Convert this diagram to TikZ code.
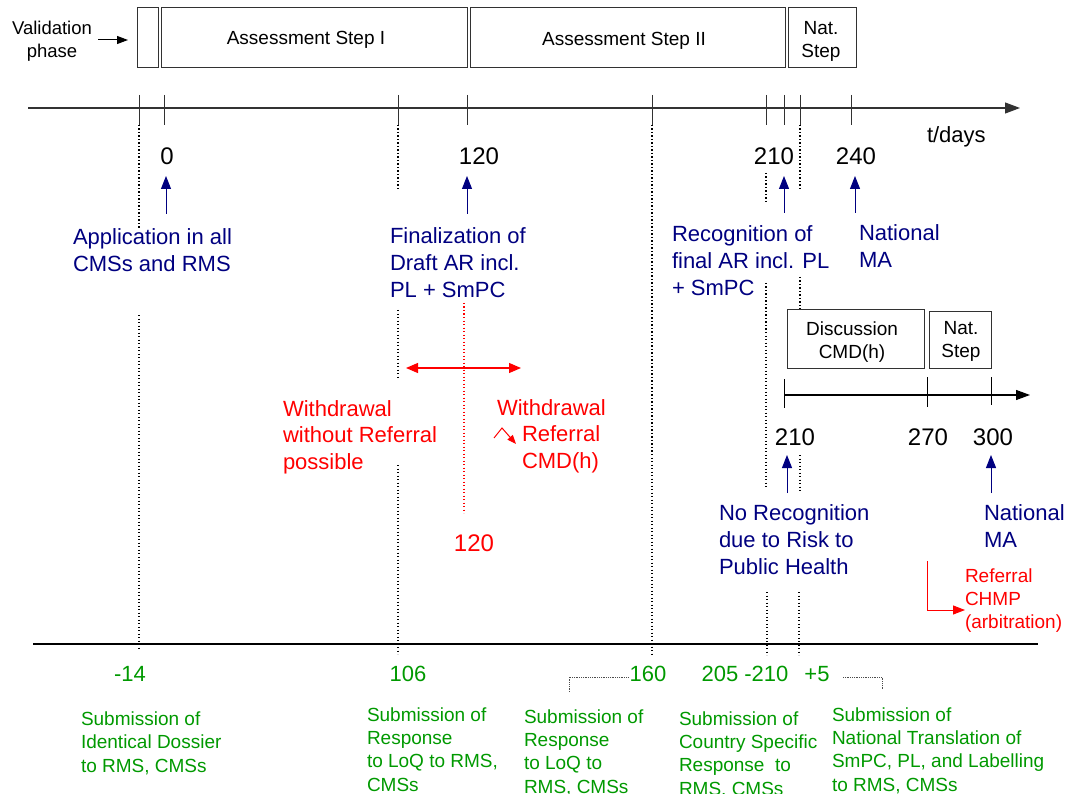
\documentclass[tikz,border=0pt]{standalone}
\usepackage{fontspec}
\setmainfont{Liberation Sans}
\usetikzlibrary{arrows.meta}

\definecolor{navy}{RGB}{0,0,128}
\definecolor{alert}{RGB}{255,0,0}
\definecolor{subgreen}{RGB}{0,153,0}
\definecolor{frame}{RGB}{50,50,50}

% multi-line text nodes are placed by the baseline of their last line
\tikzset{
  fs/.style 2 args={font=\fontsize{#1}{#2}\selectfont},
  txt/.style={inner sep=0pt, outer sep=0pt, align=left, anchor=base west},
  phasebox/.style={draw=frame, line width=0.9pt, inner sep=0pt, anchor=north west},
  phasetxt/.style={inner sep=0pt, align=center, anchor=center, fs={19}{23}},
  axisline/.style={draw=frame, line width=1.1pt},
  tickmark/.style={draw=frame, line width=1pt},
  dotline/.style={draw=black, line width=1.3pt, dash pattern=on 1.3pt off 2.2pt},
  reddot/.style={draw=alert, line width=1.2pt, dash pattern=on 1.3pt off 2.2pt},
  fineline/.style={draw=black!70, line width=0.8pt, dash pattern=on 0.8pt off 1pt},
  upmark/.style={draw=navy, line width=1pt, -{Triangle[width=10pt,length=13pt]}},
  bluetxt/.style={txt, text=navy, fs={22}{27}},
  redtxt/.style={txt, text=alert, fs={22}{26.5}},
  greentxt/.style={txt, text=subgreen, fs={19}{23.2}},
  daynum/.style={inner sep=0pt, anchor=center, fs={24}{28}},
  greennum/.style={inner sep=0pt, anchor=center, text=subgreen, fs={22}{26}},
}

\begin{document}
\begin{tikzpicture}[x=1pt, y=-1pt]
\useasboundingbox (0,0) rectangle (1068,794);
\clip (0,0) rectangle (1068,794);

% ---------- phase bar ----------
\node[txt, anchor=center, align=center, fs={18.5}{23.5}] (valtxt) at (52,41) {Validation\\phase};
\node[phasebox, minimum width=21pt, minimum height=60pt] (val) at (137,7) {};
\node[phasebox, minimum width=306pt, minimum height=60pt] (as1) at (161,7) {};
\node[phasebox, minimum width=315pt, minimum height=60pt] (as2) at (469.5,7) {};
\node[phasebox, minimum width=68pt, minimum height=60pt] (nat) at (787.5,7) {};
\node[phasetxt] (as1t) at (306,40) {Assessment Step I};
\node[phasetxt] (as2t) at (624,41) {Assessment Step II};
\node[phasetxt] (natt) at (821,41) {Nat.\\Step};
\coordinate (va) at (98,40);
\draw[draw=black, line width=1pt, -{Triangle[width=8pt,length=11pt]}] (va) -- ([xshift=-9pt]val.west |- va);

% ---------- main time axis ----------
\coordinate (axL) at (28,108);
\coordinate (axR) at (1020,108);
\draw[axisline, -{Triangle[width=11pt,length=15pt]}] (axL) -- (axR);
\foreach \x in {139,164,398,467,652,766,784,800,851}
  \draw[tickmark] (\x,95) -- (\x,125);
\node[txt, fs={22}{26}] (tdays) at (927,143) {t/days};

% day labels
\node[daynum] (d0)   at (167,156) {0};
\node[daynum] (d120) at (479,156) {120};
\node[daynum] (d210) at (774,156) {210};
\node[daynum] (d240) at (856,156) {240};

% milestone texts
\node[bluetxt] (app)   at (73,272)  {Application in all\\CMSs and RMS};
\node[bluetxt] (fin)   at (390,298) {Finalization of\\Draft AR incl.\\PL + SmPC};
\node[bluetxt] (rec)   at (672,295) {Recognition of\\final AR incl. PL\\+ SmPC};
\node[bluetxt] (nma)   at (859,268) {National\\MA};

\draw[upmark] (166,214) -- (166,176);
\draw[upmark] (467,214) -- (467,176);
\draw[upmark] (784,213) -- (784,176);
\draw[upmark] (855,213) -- (855,176);

% ---------- withdrawal window ----------
\draw[draw=alert, line width=1.2pt, {Triangle[width=10pt,length=12pt]}-{Triangle[width=10pt,length=12pt]}] (406,368) -- (521,368);
\draw[reddot] (464,303) -- (464,513);
\node[daynum, text=alert] (r120) at (474,543) {120};
\node[redtxt] (wd1) at (283,469) {Withdrawal\\without Referral\\possible};
\node[redtxt] (wd2) at (497,415) {Withdrawal};
\node[redtxt] (wd3) at (522,468) {Referral\\CMD(h)};
\draw[draw=alert, line width=1pt, -{Triangle[width=7pt,length=9pt]}] (494,438) -- (502,428) -- (516,444);

% ---------- secondary path: no recognition ----------
\node[phasebox, minimum width=137pt, minimum height=59pt] (disc) at (787,309) {};
\node[phasebox, minimum width=62pt, minimum height=57pt] (nat2) at (929,311) {};
\node[phasetxt] (disct) at (852,342) {Discussion\\CMD(h)};
\node[phasetxt] (nat2t) at (961,341) {Nat.\\Step};
\draw[axisline, draw=black, -{Triangle[width=10pt,length=14pt]}] (784,395) -- (1030,395);
\draw[tickmark, draw=black] (784,379) -- (784,408);
\draw[tickmark, draw=black] (927,377) -- (927,407);
\draw[tickmark, draw=black] (991,377) -- (991,405);
\node[daynum] (e210) at (795,437) {210};
\node[daynum] (e270) at (928,437) {270};
\node[daynum] (e300) at (993,437) {300};
\draw[upmark] (787,493) -- (787,455);
\draw[upmark] (991,493) -- (991,455);
\node[bluetxt] (nrec) at (719,574) {No Recognition\\due to Risk to\\Public Health};
\node[bluetxt] (nma2) at (984,547) {National\\MA};
\node[txt, text=alert, fs={19}{23}] (chmp) at (965,628) {Referral\\CHMP\\(arbitration)};
\draw[draw=alert, line width=1pt, -{Triangle[width=9pt,length=12pt]}] (927,561) -- (927,610) -- (chmp.west |- 0,610);

% ---------- dotted guide lines ----------
\draw[dotline] (139,125) -- (139,228);
\draw[dotline] (139,315) -- (139,650);
\draw[dotline] (398,125) -- (398,190);
\draw[dotline] (398,310) -- (398,378);
\draw[dotline] (398,465) -- (398,654);
\draw[dotline] (652,125) -- (652,655);
\draw[dotline] (766,173) -- (766,204);
\draw[dotline] (766,283) -- (766,487);
\draw[dotline] (767,592) -- (767,655);
\draw[dotline] (800,125) -- (800,190);
\draw[dotline] (800,277) -- (800,309);
\draw[dotline] (800,455) -- (800,491);
\draw[dotline] (799,592) -- (799,655);

% ---------- submission axis ----------
\draw[draw=black, line width=1.5pt] (33,644) -- (1038,644);
\node[greennum] (s14)  at (130,674) {-14};
\node[greennum] (s106) at (408,674) {106};
\node[greennum] (s160) at (648,674) {160};
\node[greennum] (s205) at (745,674) {205 -210};
\node[greennum] (s5)   at (817,674) {+5};
\draw[fineline] (569,692) -- (569,677) -- (s160.west |- 0,677);
\draw[fineline] (843,677) -- (882,677) -- (882,690);

\node[greentxt] (g1) at (81,772)  {Submission of\\Identical Dossier\\to RMS, CMSs};
\node[greentxt] (g2) at (367,791) {Submission of\\Response\\to LoQ to RMS,\\CMSs};
\node[greentxt] (g3) at (524,793) {Submission of\\Response\\to LoQ to\\RMS, CMSs};
\node[greentxt] (g4) at (679,795) {Submission of\\Country Specific\\Response\ \ to\\RMS, CMSs};
\node[greentxt] (g5) at (832,791) {Submission of\\National Translation of\\SmPC, PL, and Labelling\\to RMS, CMSs};
\end{tikzpicture}
\end{document}
